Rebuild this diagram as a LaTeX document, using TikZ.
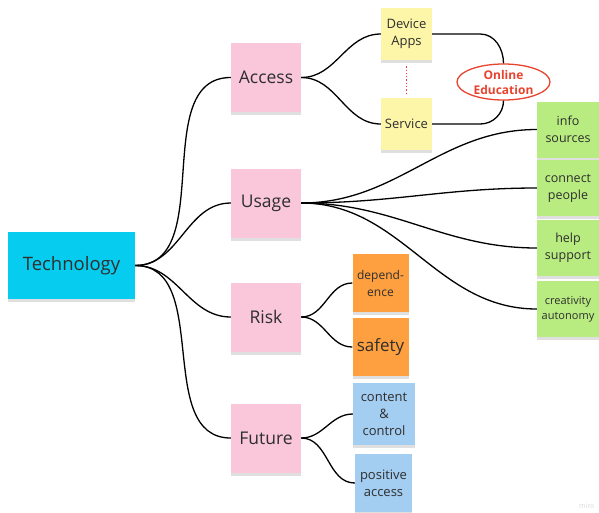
\documentclass[tikz,border=0pt]{standalone}
\usepackage{fontspec}
\setmainfont{Open Sans}
\usetikzlibrary{shapes.geometric}
\usetikzlibrary{shadows}

\definecolor{hubcyan}{HTML}{06CDEF}
\definecolor{notepink}{HTML}{F9C6DA}
\definecolor{noteyellow}{HTML}{FDF5A8}
\definecolor{notegreen}{HTML}{B8EB80}
\definecolor{noteorange}{HTML}{FFA040}
\definecolor{noteblue}{HTML}{A3CDF1}
\definecolor{inkred}{HTML}{E8432E}
\definecolor{inkgray}{HTML}{2E2E2E}

\begin{document}
\begin{tikzpicture}[x=1pt,y=-1pt]
\tikzset{
note/.style = {rectangle,
               text=inkgray,
               align=center,
               inner sep=1pt,
               drop shadow={shadow xshift=0pt,shadow yshift=-3pt,opacity=0.25}},
hub/.style = {note,fill=hubcyan,
              minimum width=127pt,
              minimum height=67pt,
              font=\fontsize{18.5}{22}\selectfont},
topic/.style = {note,fill=notepink,
                minimum width=70pt,
                minimum height=69pt,
                font=\fontsize{17.5}{21}\selectfont},
device/.style = {note,fill=noteyellow,
                 minimum width=51pt,
                 minimum height=52pt,
                 font=\fontsize{13}{17}\selectfont},
usage/.style = {note,fill=notegreen,
                minimum width=62pt,
                minimum height=56pt,
                font=\fontsize{12.5}{17}\selectfont},
risk/.style = {note,fill=noteorange,
               minimum width=56pt,
               minimum height=58pt,
               font=\fontsize{12}{17}\selectfont},
future/.style = {note,fill=noteblue,
                 minimum height=60pt,
                 font=\fontsize{13}{17}\selectfont},
link/.style = {line width=1.3pt,black}
}

\useasboundingbox[fill=white] (0,0) rectangle (599,512);

% centre and topics
\node[hub]   at (71.5,265.5) (tech)   {Technology};
\node[topic] at (266,77.5)   (access) {Access};
\node[topic] at (266,203)    (usage)  {Usage};
\node[topic] at (266,317)    (risk)   {Risk};
\node[topic] at (266,438)    (future) {Future};

% access
\node[device] at (406.5,34)  (apps)    {Device\\Apps};
\node[device] at (406.5,124) (service) {Service};
\node[ellipse,draw=inkred,line width=1.3pt,fill=white,
      minimum width=93pt,minimum height=36pt,inner sep=0pt,
      text=inkred,align=center,
      font=\fontsize{12}{15}\selectfont\bfseries]
      at (503.5,82) (online) {Online\\Education};

% usage
\node[usage] at (568,129.5) (info)    {info\\sources};
\node[usage] at (568,188)   (connect) {connect\\people};
\node[usage] at (568,248)   (help)    {help\\support};
\node[usage,font=\fontsize{11}{15}\selectfont] at (568,309) (create) {creativity\\autonomy};

% risk
\node[risk] at (380.5,283) (depend) {depend-\\ence};
\node[risk,font=\fontsize{17}{20}\selectfont] at (380.5,347) (safety) {safety};

% future
\node[future,minimum width=62pt,minimum height=62pt] at (384,414) (content) {content\\\&\\control};
\node[future,minimum width=57pt,minimum height=58pt] at (383.5,483) (positive) {positive\\access};

\node[text=black!15,font=\fontsize{7}{8}\selectfont,anchor=east] at (598,506) (wm) {miro};

\foreach \t in {access,usage,risk,future}
  \draw[link] (tech.east) to[out=0,in=180] (\t.west);

\draw[link] (access.east) to[out=0,in=180] (apps.west);
\draw[link] (access.east) to[out=0,in=180] (service.west);
\draw[link] (apps.east) -- ++(48,0) to[out=0,in=90] (online.north);
\draw[link] (service.east) -- ++(48,0) to[out=0,in=-90] (online.south);
\draw[inkred,line width=1.3pt,dotted,shorten <=6pt,shorten >=4pt] (apps.south) -- (service.north);

\foreach \u in {info,connect,help,create}
  \draw[link] (usage.east) to[out=0,in=180] (\u.west);

\draw[link] (risk.east) to[out=0,in=180] (depend.west);
\draw[link] (risk.east) to[out=0,in=180] (safety.west);
\draw[link] (future.east) to[out=0,in=180] (content.west);
\draw[link] (future.east) to[out=0,in=180] (positive.west);
\end{tikzpicture}
\end{document}
